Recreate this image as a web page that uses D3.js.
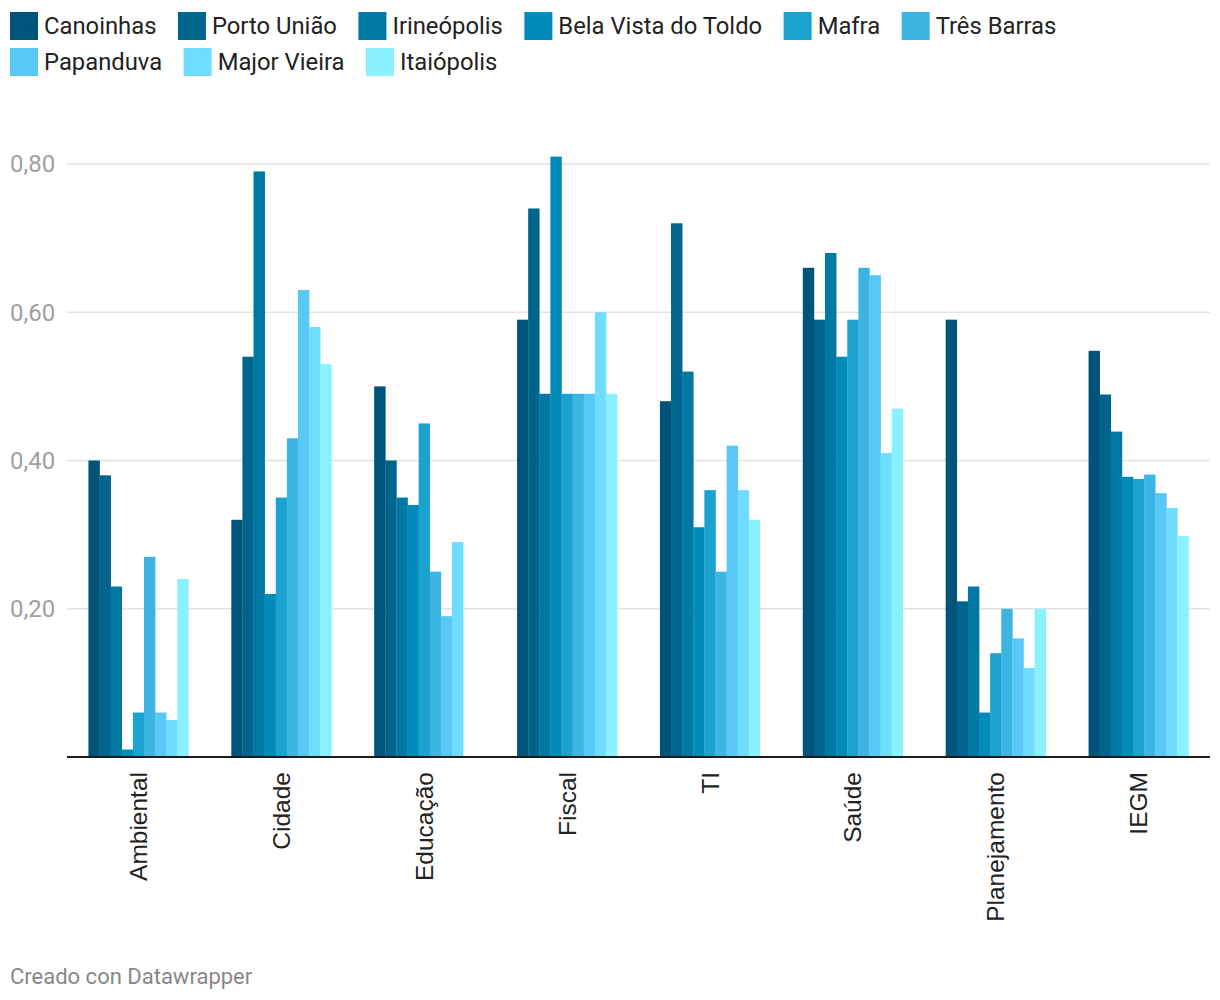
<!DOCTYPE html>
<html lang="pt">
<head>
  <meta charset="UTF-8">
  <title>IEGM</title>
  <style>
    body { margin: 0; background: #fff; }
  </style>
</head>
<body>

  <svg id="svg" width="1220" height="1000"></svg>

  <script src="https://d3js.org/d3.v7.min.js"></script>
  <script>
    const categories = ['Ambiental', 'Cidade', 'Educação', 'Fiscal', 'TI', 'Saúde', 'Planejamento', 'IEGM']
    const cities = ['Canoinhas', 'Porto União', 'Irineópolis', 'Bela Vista do Toldo', 'Mafra',
                    'Três Barras', 'Papanduva', 'Major Vieira', 'Itaiópolis']
    const colors = ['#005479', '#00658d', '#0078a4', '#008bb8', '#1ba2cf',
                    '#3db5e2', '#58c9f6', '#6fddff', '#8af2ff']

    // one array per city, in category order
    const canoinhas   = [0.40, 0.32, 0.50, 0.59, 0.48, 0.66, 0.59, 0.548]
    const portoUniao  = [0.38, 0.54, 0.40, 0.74, 0.72, 0.59, 0.21, 0.489]
    const irineopolis = [0.23, 0.79, 0.35, 0.49, 0.52, 0.68, 0.23, 0.439]
    const belaVista   = [0.01, 0.22, 0.34, 0.81, 0.31, 0.54, 0.06, 0.378]
    const mafra       = [0.06, 0.35, 0.45, 0.49, 0.36, 0.59, 0.14, 0.375]
    const tresBarras  = [0.27, 0.43, 0.25, 0.49, 0.25, 0.66, 0.20, 0.381]
    const papanduva   = [0.06, 0.63, 0.19, 0.49, 0.42, 0.65, 0.16, 0.356]
    const majorVieira = [0.05, 0.58, 0.29, 0.60, 0.36, 0.41, 0.12, 0.336]
    const itaiopolis  = [0.24, 0.53, 0.00, 0.49, 0.32, 0.47, 0.20, 0.298]

    const yTicks = [0.2, 0.4, 0.6, 0.8]

    const series = [canoinhas, portoUniao, irineopolis, belaVista, mafra,
                    tresBarras, papanduva, majorVieira, itaiopolis]

    const svg = d3.select('#svg')

    const left = 67, right = 1210, baseY = 757

    const x0 = d3.scaleBand()
      .domain(categories)
      .range([left, right])
      .paddingInner(0.3)
      .paddingOuter(0.15)

    const x1 = d3.scaleBand()
      .domain(cities)
      .range([0, x0.bandwidth()])

    const y = d3.scaleLinear()
      .domain([0, 0.8])
      .range([baseY, 164])

    const color = d3.scaleOrdinal().domain(cities).range(colors)

    // --------------- grid + y labels ---------------
    const grid = svg.append('g')
    grid.selectAll('line')
      .data(yTicks)
      .enter()
      .append('line')
      .attr('x1', left)
      .attr('x2', right)
      .attr('y1', d => y(d))
      .attr('y2', d => y(d))
      .attr('stroke', '#e3e3e3')
      .attr('stroke-width', 1.3)

    grid.selectAll('text')
      .data(yTicks)
      .enter()
      .append('text')
      .text(d => d3.format('.2f')(d).replace('.', ','))
      .attr('x', 10)
      .attr('y', d => y(d))
      .attr('dy', '0.35em')
      .style('font-family', 'Roboto')
      .style('font-size', '24px')
      .attr('fill', '#a0a0a0')

    // --------------- bars ---------------
    const groups = svg.append('g')
      .selectAll('g')
      .data(categories)
      .enter()
      .append('g')
      .attr('transform', d => `translate(${x0(d)},0)`)

    groups.selectAll('rect')
      .data((c, ci) => cities.map((city, si) => ({ city, v: series[si][ci] })))
      .enter()
      .append('rect')
      .attr('x', d => x1(d.city))
      .attr('y', d => y(d.v))
      .attr('width', x1.bandwidth() + 0.3)
      .attr('height', d => baseY - y(d.v))
      .attr('fill', d => color(d.city))

    // baseline
    svg.append('line')
      .attr('x1', left)
      .attr('x2', right)
      .attr('y1', baseY)
      .attr('y2', baseY)
      .attr('stroke', '#1d1d1d')
      .attr('stroke-width', 2)

    // x labels (rotated)
    svg.append('g')
      .selectAll('text')
      .data(categories)
      .enter()
      .append('text')
      .text(d => d)
      .attr('transform', d => `translate(${x0(d) + x0.bandwidth() / 2},772) rotate(-90)`)
      .attr('text-anchor', 'end')
      .attr('dy', '0.35em')
      .style('font-family', 'Liberation Sans, Arial, sans-serif')
      .style('font-size', '24.5px')
      .attr('fill', '#222')

    // --------------- legend ---------------
    const legend = svg.append('g')
    let lx = 10, ly = 12
    cities.forEach((c, i) => {
      const item = legend.append('g')
      item.append('rect')
        .attr('width', 28)
        .attr('height', 28)
        .attr('fill', color(c))
      const t = item.append('text')
        .text(c)
        .attr('x', 34)
        .attr('y', 14)
        .attr('dy', '0.35em')
        .style('font-family', 'Roboto')
        .style('font-size', '23.8px')
        .attr('fill', '#222')
      const w = 34 + t.node().getComputedTextLength()
      if (lx + w > right && lx > 10) { lx = 10; ly += 36 }
      item.attr('transform', `translate(${lx},${ly})`)
      lx += w + 21.5
    })

    svg.append('text')
      .text('Creado con Datawrapper')
      .attr('x', 10)
      .attr('y', 984)
      .style('font-family', 'Roboto')
      .style('font-size', '22px')
      .attr('fill', '#888')
  </script>
</body>
</html>
